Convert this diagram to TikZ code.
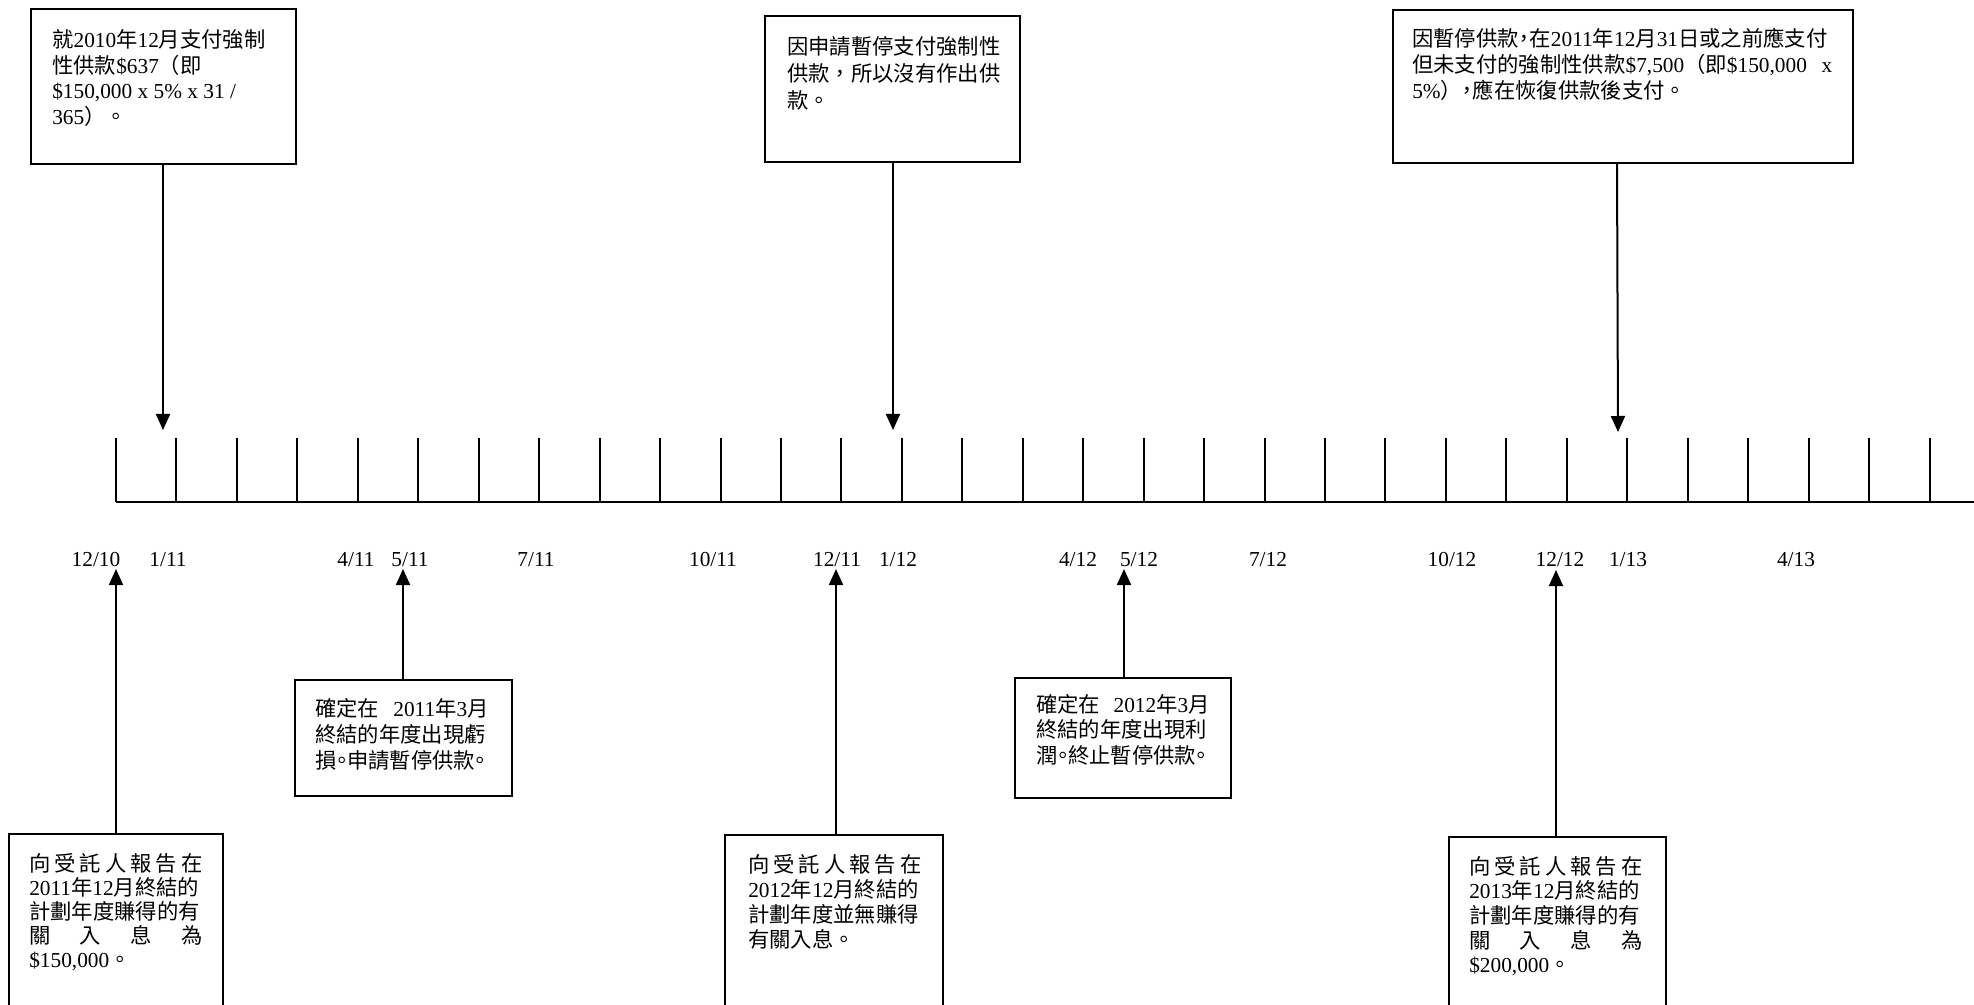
\documentclass[tikz,border=0pt]{standalone}
\usepackage{fontspec}
\setmainfont{Liberation Serif}
\newfontfamily\cjkfont{Noto Sans CJK TC}
\usetikzlibrary{arrows.meta,calc,fit}
\newcommand\C[1]{{\cjkfont #1}}
\newcommand\HP{\makebox[0.5em][c]{\cjkfont 。}}
\newcommand\HC{\makebox[0.5em][c]{\cjkfont ，}}
\begin{document}
\begin{tikzpicture}[x=0.75pt,y=-0.75pt,
  box/.style={draw, line width=1.5pt, inner sep=0pt},
  txt/.style={inner sep=0pt, anchor=north west, align=left, font=\fontsize{16}{#1}\selectfont},
  lbl/.style={inner sep=0pt, anchor=base, font=\fontsize{16}{18}\selectfont},
  arr/.style={line width=1.5pt, -{Triangle[width=10.5pt,length=12pt]}},
  tick/.style={line width=1.5pt},
  base/.style={line width=2.2pt}]
\path[use as bounding box] (0,0) rectangle (1974,1005);
\fill[white] (0,0) rectangle (1974,1005);
\clip (0,0) rectangle (1974,1005);

% timeline
\draw[base] (116,502) -- (1990,502);
\foreach \k in {0,...,30} { \draw[tick] ({116+60.45*\k},438) -- ({116+60.45*\k},502); }

% month labels
\foreach \x/\t in {96/12\slash10,168/1\slash11,356/4\slash11,410/5\slash11,536/7\slash11,713/10\slash11,837/12\slash11,898/1\slash12,1078/4\slash12,1139/5\slash12,1268/7\slash12,1452/10\slash12,1560/12\slash12,1628/1\slash13,1796/4\slash13}
  { \node[lbl] at (\x,566) {\t}; }

% top boxes
\node[box, fit={(31,9) (296,164)}] (b1) {};
\node[txt=19.3pt] (t1) at (52,29) {\C{就}2010\C{年}12\C{月支付強制}\\ \C{性供款}\$637\C{（即}\\ \$150,000 x 5\% x 31 /\\ 365\C{）。}};
\node[box, fit={(765,16) (1020,162)}] (b2) {};
\node[txt=20.2pt] (t2) at (787,36) {\C{因申請暫停支付強制性}\\ \C{供款，所以沒有作出供}\\ \C{款。}};
\node[box, fit={(1393,10) (1853,163)}] (b3) {};
\node[txt=19.5pt] (t3) at (1412,28) {\C{因暫停供款}\HC\C{在}2011\C{年}12\C{月}31\C{日或之前應支付}\\ \makebox[315pt][s]{\C{但未支付的強制性供款}\$7,500\C{（即}\$150,000 x}\\ 5\%\C{）}\HC\C{應在恢復供款後支付。}};

\coordinate (p1) at (163,430);
\coordinate (p2) at (893,430);
\coordinate (p3) at (1618,432);
\draw[arr] (b1.south -| p1) -- (p1);
\draw[arr] (b2.south -| p2) -- (p2);
\draw[arr] ($(b3.south -| p3)+(-1,0)$) -- (p3);

% middle boxes
\node[box, fit={(295,680) (512,796)}] (bB) {};
\node[txt=19.4pt] (tB) at (315,698) {\makebox[130pt][s]{\C{確定在} 2011\C{年}3\C{月}}\\ \C{終結的年度出現虧}\\ \C{損}\HP\C{申請暫停供款}\HP};
\node[box, fit={(1015,678) (1231,798)}] (bD) {};
\node[txt=19pt] (tD) at (1036,694) {\makebox[130pt][s]{\C{確定在} 2012\C{年}3\C{月}}\\ \C{終結的年度出現利}\\ \C{潤}\HP\C{終止暫停供款}\HP};

% bottom boxes
\node[box, fit={(9,834) (223,1020)}] (bA) {};
\node[txt=18.1pt] (tA) at (29,853) {\makebox[130pt][s]{\C{向}\hfil\C{受}\hfil\C{託}\hfil\C{人}\hfil\C{報}\hfil\C{告}\hfil\C{在}}\\ 2011\C{年}12\C{月終結的}\\ \C{計劃年度賺得的有}\\ \makebox[130pt][s]{\C{關}\hfil\C{入}\hfil\C{息}\hfil\C{為}}\\ \$150,000\C{。}};
\node[box, fit={(725,835) (943,1020)}] (bC) {};
\node[txt=18.8pt] (tC) at (748,854) {\makebox[130pt][s]{\C{向}\hfil\C{受}\hfil\C{託}\hfil\C{人}\hfil\C{報}\hfil\C{告}\hfil\C{在}}\\ 2012\C{年}12\C{月終結的}\\ \C{計劃年度並無賺得}\\ \C{有關入息。}};
\node[box, fit={(1449,837) (1666,1020)}] (bE) {};
\node[txt=18.5pt] (tE) at (1469,856) {\makebox[130pt][s]{\C{向}\hfil\C{受}\hfil\C{託}\hfil\C{人}\hfil\C{報}\hfil\C{告}\hfil\C{在}}\\ 2013\C{年}12\C{月終結的}\\ \C{計劃年度賺得的有}\\ \makebox[130pt][s]{\C{關}\hfil\C{入}\hfil\C{息}\hfil\C{為}}\\ \$200,000\C{。}};

\coordinate (qA) at (116,569);
\coordinate (qB) at (403,569);
\coordinate (qC) at (836,569);
\coordinate (qD) at (1124,569);
\coordinate (qE) at (1556,570);
\draw[arr] (bA.north -| qA) -- (qA);
\draw[arr] (bB.north -| qB) -- (qB);
\draw[arr] (bC.north -| qC) -- (qC);
\draw[arr] (bD.north -| qD) -- (qD);
\draw[arr] (bE.north -| qE) -- (qE);
\end{tikzpicture}
\end{document}
